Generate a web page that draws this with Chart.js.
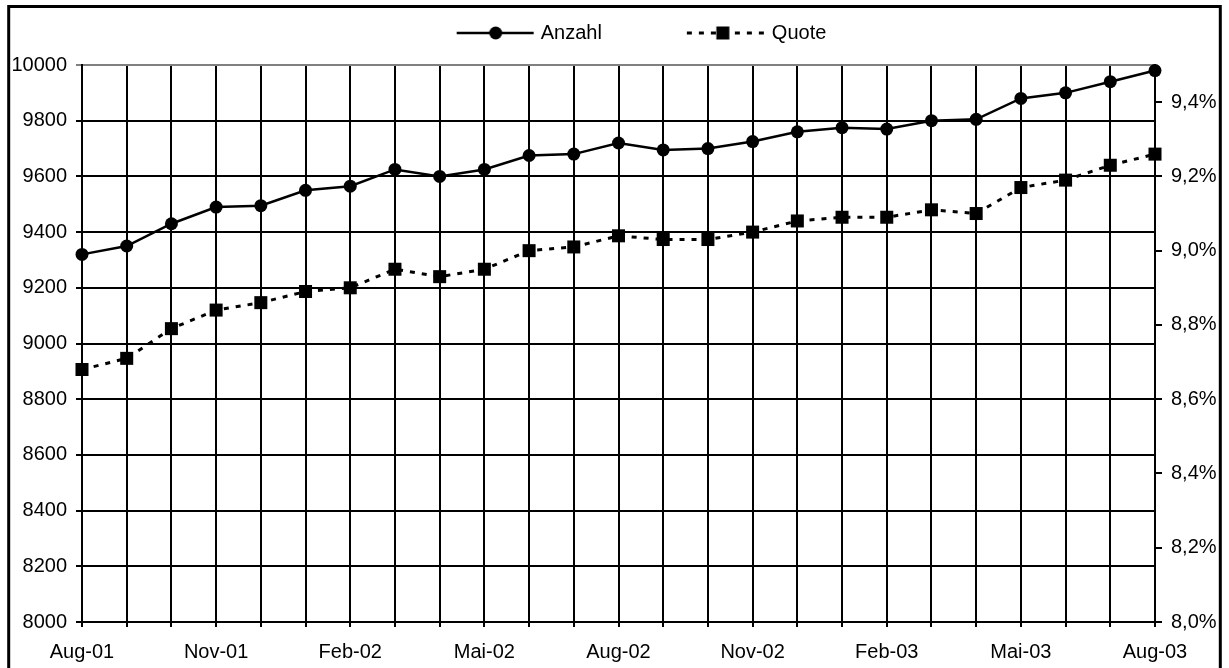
<!DOCTYPE html>
<html>
<head>
<meta charset="utf-8">
<script src="https://cdn.jsdelivr.net/npm/chart.js@4"></script>
<style>
  html, body { margin: 0; padding: 0; background: #fff; }
  #wrap { width: 1229px; height: 668px; }
</style>
</head>
<body>
<div id="wrap"><canvas id="c" width="1229" height="668"></canvas></div>
<script>
const months = ['Aug-01','Sep-01','Okt-01','Nov-01','Dez-01','Jan-02','Feb-02','Mrz-02','Apr-02','Mai-02','Jun-02','Jul-02','Aug-02','Sep-02','Okt-02','Nov-02','Dez-02','Jan-03','Feb-03','Mrz-03','Apr-03','Mai-03','Jun-03','Jul-03','Aug-03'];
const shownTicks = ['Aug-01','Nov-01','Feb-02','Mai-02','Aug-02','Nov-02','Feb-03','Mai-03','Aug-03'];
const anzahl = [9320, 9350, 9430, 9490, 9495, 9550, 9565, 9625, 9600, 9625, 9675, 9680, 9720, 9695, 9700, 9725, 9760, 9775, 9770, 9800, 9805, 9880, 9900, 9940, 9980];
const quote = [8.68, 8.71, 8.79, 8.84, 8.86, 8.89, 8.90, 8.95, 8.93, 8.95, 9.00, 9.01, 9.04, 9.03, 9.03, 9.05, 9.08, 9.09, 9.09, 9.11, 9.10, 9.17, 9.19, 9.23, 9.26];
const seriesNames = ['Anzahl', 'Quote'];

const FONT = '"Liberation Sans", Arial, sans-serif';
const FS = 20;

// legend symbol images (line + marker)
function legendImage(kind) {
  const c = document.createElement('canvas');
  c.width = 157; c.height = 20;
  const g = c.getContext('2d');
  g.strokeStyle = '#000'; g.fillStyle = '#000';
  if (kind === 'circle') {
    g.lineWidth = 2.5;
    g.beginPath(); g.moveTo(73, 10); g.lineTo(150, 10); g.stroke();
    g.beginPath(); g.arc(112, 10, 6.5, 0, Math.PI * 2); g.fill();
  } else {
    g.lineWidth = 3;
    g.setLineDash([5, 7]);
    g.beginPath(); g.moveTo(72, 10); g.lineTo(155, 10); g.stroke();
    g.fillRect(108 - 6.5, 10 - 6.5, 13, 13);
  }
  return c;
}
const legendImgs = [legendImage('circle'), legendImage('rect')];

const frame = {
  id: 'frame',
  beforeLayout(chart) {
    const lg = chart.legend;
    if (lg && !lg._patched) {
      const f = lg.fit;
      lg.fit = function () { f.call(this); this.height = 65; };
      lg._patched = true;
    }
  },
  beforeDraw(chart) {
    const g = chart.ctx;
    g.save(); g.fillStyle = '#fff'; g.fillRect(0, 0, chart.width, chart.height); g.restore();
  },
  afterDraw(chart) {
    const g = chart.ctx;
    g.save();
    g.strokeStyle = '#000'; g.lineWidth = 3;
    g.strokeRect(8.7, 6.5, 1211.6, 668);
    g.restore();
  }
};

new Chart(document.getElementById('c'), {
  type: 'line',
  data: {
    labels: months,
    datasets: [
      {
        label: seriesNames[0], data: anzahl, yAxisID: 'y',
        borderColor: '#000', backgroundColor: '#000', borderWidth: 2.5,
        pointStyle: 'circle', pointRadius: 6.5, pointBackgroundColor: '#000', pointBorderWidth: 0,
        tension: 0, clip: false
      },
      {
        label: seriesNames[1], data: quote, yAxisID: 'y1',
        borderColor: '#000', backgroundColor: '#000', borderWidth: 3, borderDash: [5, 7],
        pointStyle: 'rect', pointRadius: 9.2, pointBackgroundColor: '#000', pointBorderWidth: 0,
        tension: 0, clip: false
      }
    ]
  },
  options: {
    responsive: false,
    devicePixelRatio: 1,
    animation: false,
    layout: { padding: { left: 0, right: 9, top: 0, bottom: 0 } },
    plugins: {
      tooltip: { enabled: false },
      legend: {
        display: true,
        position: 'top',
        align: 'center',
        labels: {
          usePointStyle: true,
          pointStyleWidth: 137,
          padding: 23,
          color: '#000',
          font: { family: FONT, size: FS },
          generateLabels(chart) {
            return seriesNames.map((n, i) => ({
              text: n, pointStyle: legendImgs[i], fillStyle: '#000', strokeStyle: '#000',
              lineWidth: 0, hidden: false, datasetIndex: i, fontColor: '#000'
            }));
          }
        }
      }
    },
    scales: {
      x: {
        type: 'category',
        offset: false,
        grid: { display: true, color: '#000', lineWidth: 2, tickLength: 5, drawTicks: true },
        border: { display: true, color: '#000', width: 2 },
        ticks: {
          autoSkip: false, maxRotation: 0, minRotation: 0, padding: 13, color: '#000',
          font: { family: FONT, size: FS },
          callback(v, i) { const l = months[i]; return shownTicks.includes(l) ? l : ''; }
        },
        afterFit(s) { s.height = 46; }
      },
      y: {
        type: 'linear', position: 'left', min: 8000, max: 10000,
        grid: {
          color: (ctx) => (ctx.tick && ctx.tick.value === 10000 ? '#808080' : '#000'),
          lineWidth: 2, tickLength: 6
        },
        border: { display: true, color: '#000', width: 2 },
        ticks: {
          stepSize: 200, padding: 9, color: '#000', font: { family: FONT, size: FS },
          callback(v) { return String(v); }
        },
        afterFit(s) { s.width = 82; }
      },
      y1: {
        type: 'linear', position: 'right', min: 8, max: 9.5,
        grid: { drawOnChartArea: false, color: '#000', lineWidth: 2, tickLength: 7 },
        border: { display: true, color: '#000', width: 2 },
        ticks: {
          stepSize: 0.2, padding: 9, color: '#000', font: { family: FONT, size: FS },
          callback(v) { return v.toFixed(1).replace('.', ',') + '%'; }
        },
        afterBuildTicks(s) {
          s.ticks = s.ticks.filter(t => Math.abs(t.value * 5 - Math.round(t.value * 5)) < 1e-6);
        },
        afterFit(s) { s.width = 65; }
      }
    }
  },
  plugins: [frame]
});
</script>
</body>
</html>
